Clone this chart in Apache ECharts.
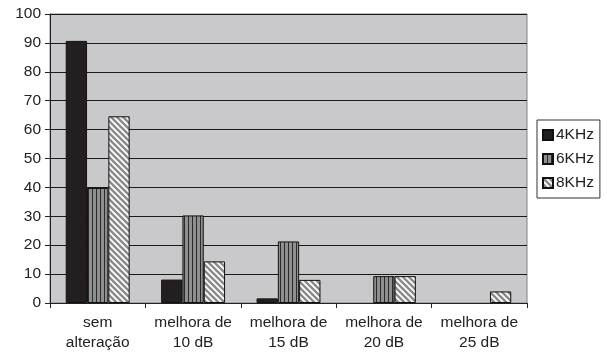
<!DOCTYPE html>
<html>
<head>
<meta charset="utf-8">
<script src="https://cdn.jsdelivr.net/npm/echarts@6/dist/echarts.min.js"></script>
<style>
  html, body { margin: 0; padding: 0; background: #fff; }
  #chart { width: 607px; height: 359px; }
</style>
</head>
<body>
<div id="chart"></div>
<script>
// Categories and per-frequency percentages (null = no bar)
const categories = ['sem\nalteração', 'melhora de\n10 dB', 'melhora de\n15 dB', 'melhora de\n20 dB', 'melhora de\n25 dB'];
const seriesNames = ['4KHz', '6KHz', '8KHz'];
const values4k = [90.7, 8.1, 1.6, null, null];
const values6k = [39.8, 30.3, 21.3, 9.3, null];
const values8k = [64.6, 14.4, 8.0, 9.3, 4.0];
const yTicks = [0, 10, 20, 30, 40, 50, 60, 70, 80, 90, 100];

// Vertical stripe fill for the 6KHz bars
function verticalStripes() {
  const c = document.createElement('canvas');
  c.width = 4; c.height = 4;
  const g = c.getContext('2d');
  g.fillStyle = '#8f8f8f';
  g.fillRect(0, 0, 4, 4);
  g.fillStyle = '#2b2b2b';
  g.fillRect(0, 0, 1, 4);
  return c;
}

// Diagonal stripe fill for the 8KHz bars
function diagonalStripes() {
  const s = 6;
  const c = document.createElement('canvas');
  c.width = s; c.height = s;
  const g = c.getContext('2d');
  g.fillStyle = '#ffffff';
  g.fillRect(0, 0, s, s);
  g.strokeStyle = '#8a8a8a';
  g.lineWidth = 2.4;
  g.beginPath();
  for (let k = -1; k <= 1; k++) {
    g.moveTo(k * s - 1, -1);
    g.lineTo(k * s + s + 1, s + 1);
  }
  g.stroke();
  return c;
}

const fills = [
  '#231f20',
  { image: verticalStripes(), repeat: 'repeat' },
  { image: diagonalStripes(), repeat: 'repeat' }
];
const allValues = [values4k, values6k, values8k];

const chart = echarts.init(document.getElementById('chart'), null, { renderer: 'canvas' });
chart.setOption({
  animation: false,
  backgroundColor: '#ffffff',
  textStyle: { fontFamily: 'Liberation Sans, Arial, sans-serif' },
  grid: {
    left: 50, right: 80, top: 14, bottom: 56,
    show: true, backgroundColor: '#c9c9cb', borderColor: '#808080', borderWidth: 1
  },
  legend: {
    orient: 'vertical',
    left: 537, top: 120,
    padding: [7, 6, 7, 5],
    itemGap: 8,
    itemWidth: 10, itemHeight: 10,
    borderColor: '#333', borderWidth: 1,
    backgroundColor: '#fff',
    textStyle: { fontSize: 15.5, color: '#222', padding: [0, 0, 0, -2] },
    data: seriesNames.map(n => ({ name: n, icon: 'rect' }))
  },
  xAxis: {
    type: 'category',
    data: categories,
    axisLine: { lineStyle: { color: '#222', width: 1 } },
    axisTick: { show: true, length: 5, lineStyle: { color: '#222' } },
    axisLabel: { fontSize: 15.5, color: '#222', lineHeight: 20, margin: 10, interval: 0 }
  },
  yAxis: {
    type: 'value',
    min: 0, max: 100, interval: 10,
    axisLine: { show: true, lineStyle: { color: '#222' } },
    axisTick: { show: true, length: 5, lineStyle: { color: '#222' } },
    axisLabel: { fontSize: 15.5, color: '#222', margin: 9,
      formatter: v => yTicks.includes(v) ? String(v) : '' },
    splitLine: { show: true, lineStyle: { color: '#1a1a1a', width: 1 } }
  },
  series: seriesNames.map((name, i) => ({
    name,
    type: 'bar',
    data: allValues[i],
    barGap: '0%',
    barCategoryGap: '33%',
    itemStyle: { color: fills[i], borderColor: '#111', borderWidth: 1 }
  }))
});
</script>
</body>
</html>
